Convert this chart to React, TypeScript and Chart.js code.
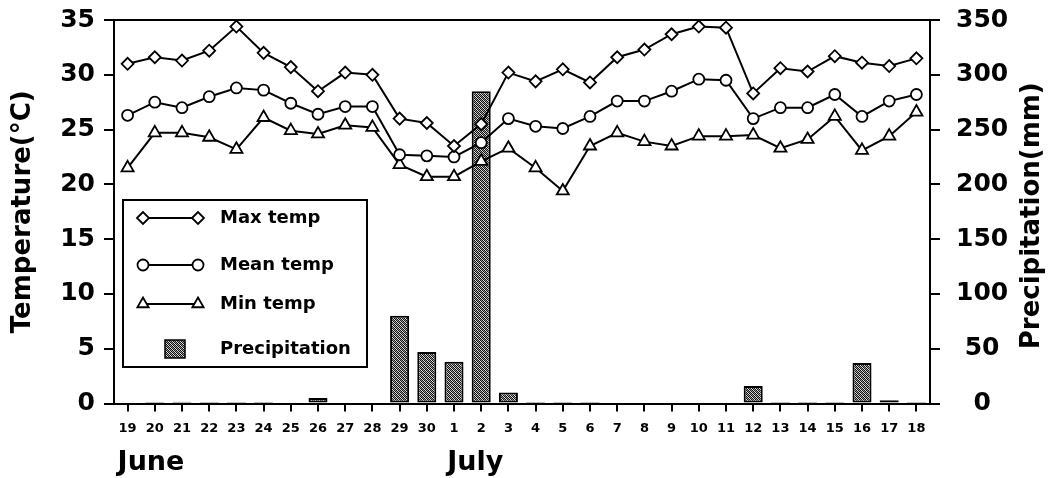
import React, { useEffect, useRef } from "react";
import { Chart, registerables } from "chart.js";

Chart.register(...registerables);

const days = [
  "19", "20", "21", "22", "23", "24", "25", "26", "27", "28", "29", "30",
  "1", "2", "3", "4", "5", "6", "7", "8", "9", "10", "11", "12", "13", "14", "15", "16", "17", "18",
];
const maxTemp = [
  31.0, 31.6, 31.3, 32.2, 34.4, 32.0, 30.7, 28.5, 30.2, 30.0, 26.0, 25.6,
  23.5, 25.5, 30.2, 29.4, 30.5, 29.3, 31.6, 32.3, 33.7, 34.4, 34.3, 28.3, 30.6, 30.3, 31.7, 31.1, 30.8, 31.5,
];
const meanTemp = [
  26.3, 27.5, 27.0, 28.0, 28.8, 28.6, 27.4, 26.4, 27.1, 27.1, 22.7, 22.6,
  22.5, 23.8, 26.0, 25.3, 25.1, 26.2, 27.6, 27.6, 28.5, 29.6, 29.5, 26.0, 27.0, 27.0, 28.2, 26.2, 27.6, 28.2,
];
const minTemp = [
  21.5, 24.7, 24.7, 24.3, 23.2, 26.1, 24.9, 24.6, 25.4, 25.2, 21.8, 20.7,
  20.7, 22.1, 23.3, 21.5, 19.4, 23.5, 24.7, 23.9, 23.5, 24.4, 24.4, 24.5, 23.3, 24.1, 26.2, 23.1, 24.4, 26.6,
];
const precipitation = [
  0, 0.3, 1.5, 0.5, 0.5, 0.5, 0, 5, 0, 0, 80, 47,
  38, 285, 10, 0.5, 0.5, 0.3, 0, 0, 0, 0, 1, 16, 0.3, 0.5, 0.5, 37, 3, 0.3,
];
const seriesLabels = ["Max temp", "Mean temp", "Min temp", "Precipitation"];
const monthLabels = ["June", "July"];
const monthIndex = [0, 13];
const tempTitle = "Temperature(°C)";
const precipTitle = "Precipitation(mm)";

const FONT = "DejaVu Sans";

function makePattern(): CanvasPattern | string {
  const c = document.createElement("canvas");
  c.width = 4;
  c.height = 4;
  const g = c.getContext("2d");
  if (!g) return "#888";
  g.fillStyle = "#e4e4e4";
  g.fillRect(0, 0, 4, 4);
  for (let i = 0; i < 4; i++) {
    g.fillStyle = "#111";
    g.fillRect(i, i, 1, 1);
    g.fillRect((i + 2) % 4, i, 1, 1);
    g.fillStyle = "#9a9a9a";
    g.fillRect((i + 1) % 4, i, 1, 1);
  }
  const p = g.createPattern(c, "repeat");
  return p || "#888";
}

function drawMarker(ctx: CanvasRenderingContext2D, style: string, x: number, y: number, r: number) {
  ctx.beginPath();
  if (style === "rectRot") {
    ctx.moveTo(x - r, y);
    ctx.lineTo(x, y - r);
    ctx.lineTo(x + r, y);
    ctx.lineTo(x, y + r);
    ctx.closePath();
  } else if (style === "circle") {
    ctx.arc(x, y, r, 0, Math.PI * 2);
  } else {
    for (let k = 0; k < 3; k++) {
      const a = -Math.PI / 2 + (k * 2 * Math.PI) / 3;
      const px = x + Math.cos(a) * r;
      const py = y + Math.sin(a) * r;
      if (k === 0) ctx.moveTo(px, py);
      else ctx.lineTo(px, py);
    }
    ctx.closePath();
  }
  ctx.fillStyle = "#fff";
  ctx.fill();
  ctx.stroke();
}

const overlayPlugin = {
  id: "overlay",
  afterDraw(chart: any) {
    const ctx: CanvasRenderingContext2D = chart.ctx;
    const a = chart.chartArea;
    const xs = chart.scales.x;
    ctx.save();
    ctx.strokeStyle = "#000";
    ctx.lineWidth = 2;
    // top frame
    ctx.beginPath();
    ctx.moveTo(a.left - 1, a.top);
    ctx.lineTo(a.right + 1, a.top);
    ctx.stroke();

    // right axis title, reading bottom-to-top
    ctx.fillStyle = "#000";
    ctx.font = `bold 26px "${FONT}"`;
    ctx.textAlign = "center";
    ctx.textBaseline = "middle";
    ctx.save();
    ctx.translate(chart.width - 21, (a.top + a.bottom) / 2 + 4);
    ctx.rotate(-Math.PI / 2);
    ctx.fillText(precipTitle, 0, 0);
    ctx.restore();

    // month labels
    ctx.font = `bold 27px "${FONT}"`;
    ctx.textAlign = "left";
    ctx.textBaseline = "alphabetic";
    const monthShift = [-10, -34];
    monthLabels.forEach((m, i) => {
      const px = xs.getPixelForValue(monthIndex[i]);
      ctx.fillText(m, px + monthShift[i], 470);
    });

    // legend box
    const bx = a.left + 9;
    const by = a.top + 180;
    const bw = 244;
    const bh = 167;
    ctx.fillStyle = "#fff";
    ctx.fillRect(bx, by, bw, bh);
    ctx.lineWidth = 2;
    ctx.strokeRect(bx, by, bw, bh);

    const rows = [18, 65, 104, 149];
    const ds = chart.data.datasets;
    ctx.font = `bold 18px "${FONT}"`;
    ctx.textBaseline = "middle";
    const styles = ["rectRot", "circle", "triangle"];
    const radii = [6, 5.5, 6.5];
    for (let i = 0; i < 3; i++) {
      const y = by + rows[i];
      ctx.strokeStyle = "#000";
      ctx.lineWidth = 2;
      ctx.beginPath();
      ctx.moveTo(bx + 20, y);
      ctx.lineTo(bx + 75, y);
      ctx.stroke();
      ctx.lineWidth = 1.8;
      drawMarker(ctx, styles[i], bx + 20, y, radii[i]);
      drawMarker(ctx, styles[i], bx + 75, y, radii[i]);
      ctx.fillStyle = "#000";
      ctx.fillText(ds[i].label, bx + 97, y);
    }
    const py = by + rows[3];
    ctx.fillStyle = ds[3].backgroundColor;
    ctx.fillRect(bx + 42, py - 9, 20, 18);
    ctx.lineWidth = 1.5;
    ctx.strokeRect(bx + 42, py - 9, 20, 18);
    ctx.fillStyle = "#000";
    ctx.fillText(ds[3].label, bx + 97, py);
    ctx.restore();
  },
};

export default function App() {
  const ref = useRef<HTMLCanvasElement | null>(null);
  useEffect(() => {
    document.body.style.margin = "0";
    const canvas = ref.current;
    if (!canvas) return;
    const pattern = makePattern();
    const lineBase = {
      type: "line" as const,
      yAxisID: "y",
      borderColor: "#000",
      borderWidth: 2,
      pointBackgroundColor: "#fff",
      pointBorderColor: "#000",
      pointBorderWidth: 1.8,
      tension: 0,
      order: 1,
    };
    const tickFont = { family: FONT, weight: "bold" as const, size: 25 };
    const titleFont = { family: FONT, weight: "bold" as const, size: 26 };
    const chart = new Chart(canvas, {
      type: "bar",
      data: {
        labels: days,
        datasets: [
          { ...lineBase, label: seriesLabels[0], data: maxTemp, pointStyle: "rectRot", pointRadius: 6 },
          { ...lineBase, label: seriesLabels[1], data: meanTemp, pointStyle: "circle", pointRadius: 5.5 },
          { ...lineBase, label: seriesLabels[2], data: minTemp, pointStyle: "triangle", pointRadius: 7 },
          {
            type: "bar",
            label: seriesLabels[3],
            data: precipitation,
            yAxisID: "y1",
            backgroundColor: pattern as any,
            borderColor: "#000",
            borderWidth: 2,
            borderSkipped: false,
            barPercentage: 0.7,
            categoryPercentage: 1,
            order: 2,
          },
        ] as any,
      },
      options: {
        animation: false,
        responsive: false,
        maintainAspectRatio: false,
        layout: { padding: { top: 20, left: 0, right: 0, bottom: 0 } },
        plugins: { legend: { display: false }, tooltip: { enabled: false } },
        scales: {
          x: {
            type: "category",
            offset: true,
            grid: { offset: false, drawOnChartArea: false, drawTicks: true, tickLength: 8, color: "#000", lineWidth: 2 },
            border: { display: true, color: "#000", width: 2 },
            ticks: {
              color: "#000",
              font: { family: FONT, weight: "bold", size: 13 },
              padding: 9,
              maxRotation: 0,
              autoSkip: false,
            },
            afterFit: (s: any) => {
              s.height = 74.5;
              s.paddingLeft = 0;
              s.paddingRight = 0;
            },
          },
          y: {
            position: "left",
            min: 0,
            max: 35,
            ticks: { stepSize: 5, color: "#000", font: tickFont, padding: 9 },
            grid: { drawOnChartArea: false, drawTicks: true, tickLength: 10, color: "#000", lineWidth: 2 },
            border: { display: true, color: "#000", width: 2 },
            title: { display: true, text: tempTitle, color: "#000", font: titleFont, padding: { top: 8, bottom: 0 } },
            afterFit: (s: any) => {
              s.width = 114;
              s.paddingTop = 0;
              s.paddingBottom = 0;
            },
          },
          y1: {
            position: "right",
            min: 0,
            max: 350,
            ticks: { stepSize: 50, color: "#000", font: tickFont, padding: 16, crossAlign: "center" },
            grid: { drawOnChartArea: false, drawTicks: true, tickLength: 10, color: "#000", lineWidth: 2 },
            border: { display: true, color: "#000", width: 2 },
            title: { display: false, text: precipTitle },
            afterFit: (s: any) => {
              s.width = 123;
              s.paddingTop = 0;
              s.paddingBottom = 0;
            },
          },
        },
      } as any,
      plugins: [overlayPlugin],
    });
    return () => chart.destroy();
  }, []);
  return <canvas ref={ref} width={1053} height={478} style={{ display: "block" }} />;
}
